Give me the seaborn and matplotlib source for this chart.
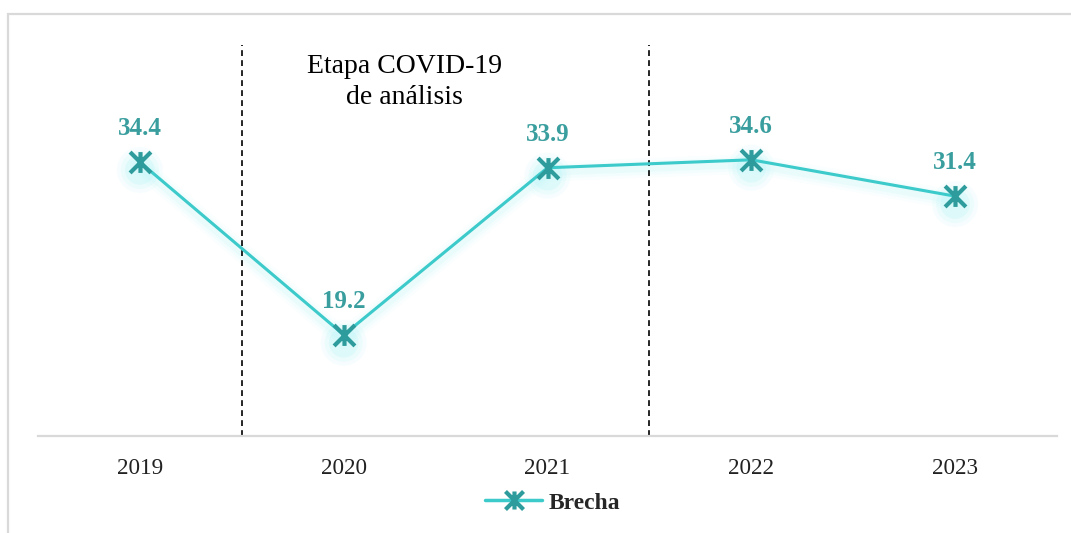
import matplotlib
matplotlib.use("Agg")
import matplotlib.pyplot as plt
from matplotlib.path import Path
from matplotlib.patches import Rectangle
from matplotlib.lines import Line2D
import numpy as np
import pandas as pd
import seaborn as sns

# Data
years = ["2019", "2020", "2021", "2022", "2023"]
brecha = [34.4, 19.2, 33.9, 34.6, 31.4]
series_name = "Brecha"
note_text = "Etapa COVID-19\nde análisis"

sns.set_theme(style="white")
plt.rcParams["font.family"] = ["Liberation Serif", "DejaVu Serif"]

line_color = "#3CCACA"
marker_color = "#2E9C9C"
label_color = "#3A9E9E"
glow_color = "#9FF2F5"

# Excel-style star marker: vertical bar plus an X
star = Path(
    [(0, -1), (0, 1), (-1, -1), (1, 1), (-1, 1), (1, -1)],
    [Path.MOVETO, Path.LINETO, Path.MOVETO, Path.LINETO, Path.MOVETO, Path.LINETO],
)

df = pd.DataFrame({"pos": np.arange(len(years)), "value": brecha})

fig = plt.figure(figsize=(10.71, 5.33), dpi=100)
ax = fig.add_axes([38 / 1071, 1 - 436 / 533, (1057 - 38) / 1071, (436 - 45) / 533])

# outer chart frame
fig.patches.append(Rectangle((8 / 1071, -0.2), 1.2, 1 - 14 / 533 + 0.2,
                             transform=fig.transFigure, fill=False,
                             edgecolor="#D9D9D9", lw=1.6, zorder=0))

# soft glow under the line and markers
for w, a in [(14, 0.05), (10, 0.07), (6, 0.10)]:
    ax.plot(df["pos"], df["value"] - 0.35, color=glow_color, lw=w, alpha=a,
            solid_capstyle="round", zorder=1)
for s, a in [(1100, 0.08), (750, 0.12), (450, 0.18)]:
    ax.scatter(df["pos"], df["value"] - 0.7, s=s, color=glow_color, alpha=a,
               edgecolors="none", zorder=1)

sns.lineplot(data=df, x="pos", y="value", ax=ax, color=line_color, lw=2.2,
             marker=star, markersize=15, markeredgewidth=3,
             markeredgecolor=marker_color, markerfacecolor=marker_color,
             zorder=3, legend=False)

for x, v in zip(df["pos"], df["value"]):
    ax.annotate(f"{v:.1f}", (x, v), xytext=(0, 24), textcoords="offset points",
                ha="center", va="center", fontsize=18, fontweight="bold",
                color=label_color)

# COVID-19 stage boundaries
for xb in [0.5, 2.5]:
    ax.axvline(xb, color="black", lw=1.2, ls=(0, (3.5, 2.5)), zorder=2)

ax.text(1.3, 43.95, note_text, ha="center", va="top", fontsize=20,
        color="black", linespacing=1.36)

ax.set_xlim(-0.5, 4.5)
ax.set_ylim(10.3, 44.7)
ax.set_xticks(df["pos"])
ax.set_xticklabels(years, fontsize=16.7, color="#222222")
ax.set_yticks([])
ax.set_xlabel("")
ax.set_ylabel("")
ax.tick_params(axis="x", length=0, pad=16)
for side in ["top", "right", "left"]:
    ax.spines[side].set_visible(False)
ax.spines["bottom"].set_color("#D9D9D9")
ax.spines["bottom"].set_linewidth(1.6)

handle = Line2D([0], [0], color=line_color, lw=2.5, marker=star, markersize=13,
                markeredgewidth=3, markeredgecolor=marker_color)
leg = fig.legend([handle], [series_name], loc="center",
                 bbox_to_anchor=(553 / 1071, 1 - 503 / 533), frameon=False,
                 prop={"size": 17, "weight": "bold"}, handlelength=2.4,
                 handletextpad=0.3)

fig.savefig("out.png", dpi=100)
